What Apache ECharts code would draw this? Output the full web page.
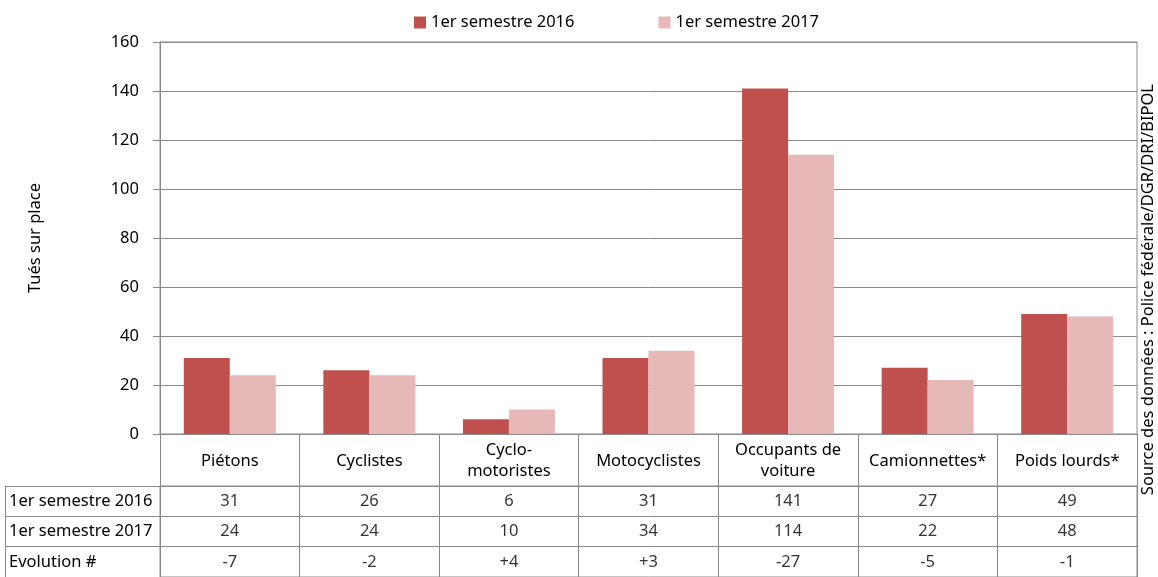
<!DOCTYPE html>
<html>
<head>
<meta charset="utf-8">
<script src="https://cdn.jsdelivr.net/npm/echarts@6/dist/echarts.min.js"></script>
<style>
  html, body { margin: 0; padding: 0; background: #fff; }
  #chart { width: 1158px; height: 577px; }
</style>
</head>
<body>
<div id="chart"></div>
<script>
const categories = [
  "Piétons",
  "Cyclistes",
  "Cyclo-\nmotoristes",
  "Motocyclistes",
  "Occupants de\nvoiture",
  "Camionnettes*",
  "Poids lourds*",
];
const seriesNames = ["1er semestre 2016", "1er semestre 2017"];
const values2016 = [31, 26, 6, 31, 141, 27, 49];
const values2017 = [24, 24, 10, 34, 114, 22, 48];
const evolution = [-7, -2, 4, 3, -27, -5, -1];
const tableRows = ["1er semestre 2016", "1er semestre 2017", "Evolution #"];
const yTicks = { min: 0, max: 160, interval: 20 };

const FONT = "Noto Sans";
const FS = 16.5;
const GRAY = "#8a8a8a";
const colors = ["#c0504d", "#e6b9b8"];

function fmtEvol(v) {
  return v > 0 ? "+" + v : String(v);
}

// cells of the data table: [column, row, text]
let cells = [];
categories.forEach((c, i) => {
  cells.push([i, 0, String(values2016[i])]);
  cells.push([i, 1, String(values2017[i])]);
  cells.push([i, 2, fmtEvol(evolution[i])]);
});

const chart = echarts.init(document.getElementById("chart"), null, { renderer: "canvas" });

const option = {
  animation: false,
  backgroundColor: "#fff",
  textStyle: { fontFamily: FONT, color: "#000" },
  color: colors,
  legend: {
    left: 409,
    top: 9,
    itemWidth: 12,
    itemHeight: 12,
    itemGap: 84,
    icon: "rect",
    textStyle: { fontFamily: FONT, fontSize: FS, color: "#000" },
    data: seriesNames,
  },
  grid: [
    {
      left: 160, right: 21, top: 42, height: 392,
      show: true, borderColor: GRAY, borderWidth: 1,
    },
    {
      left: 160, right: 21, top: 486, height: 93,
      show: true, borderColor: GRAY, borderWidth: 1,
    },
  ],
  xAxis: [
    {
      gridIndex: 0,
      type: "category",
      data: categories,
      axisLine: { lineStyle: { color: GRAY } },
      axisTick: { show: true, interval: 0, length: 52, lineStyle: { color: GRAY } },
      axisLabel: {
        interval: 0,
        margin: 27,
        verticalAlign: "middle",
        fontFamily: FONT,
        fontSize: FS,
        lineHeight: 21,
        color: "#000",
      },
      splitLine: { show: false },
    },
    {
      gridIndex: 1,
      type: "category",
      data: categories,
      axisLine: { show: false },
      axisTick: { show: false },
      axisLabel: { show: false },
      splitLine: { show: true, interval: 0, lineStyle: { color: GRAY } },
    },
  ],
  yAxis: [
    {
      gridIndex: 0,
      type: "value",
      min: yTicks.min,
      max: yTicks.max,
      interval: yTicks.interval,
      name: "Tués sur place",
      nameLocation: "middle",
      nameGap: 116,
      nameTextStyle: { fontFamily: FONT, fontSize: FS, color: "#000" },
      axisLine: { show: true, lineStyle: { color: GRAY } },
      axisTick: { show: true, length: 7, lineStyle: { color: GRAY } },
      axisLabel: { margin: 21, fontFamily: FONT, fontSize: FS, color: "#000" },
      splitLine: { show: true, lineStyle: { color: GRAY } },
    },
    {
      gridIndex: 1,
      type: "category",
      inverse: true,
      data: tableRows,
      axisLine: { show: true, lineStyle: { color: GRAY } },
      axisTick: { show: true, interval: 0, length: 155, lineStyle: { color: GRAY } },
      axisLabel: {
        interval: 0,
        align: "left",
        margin: 151,
        fontFamily: FONT,
        fontSize: FS,
        color: "#000",
      },
      splitLine: { show: true, interval: 0, lineStyle: { color: GRAY } },
    },
    {
      gridIndex: 1,
      type: "category",
      inverse: true,
      position: "left",
      offset: 155,
      data: tableRows,
      axisLine: { show: true, lineStyle: { color: GRAY } },
      axisTick: { show: false },
      axisLabel: { show: false },
    },
  ],
  series: [
    {
      name: seriesNames[0],
      type: "bar",
      xAxisIndex: 0,
      yAxisIndex: 0,
      data: values2016,
      barWidth: 46,
      barGap: "0%",
      itemStyle: { color: colors[0] },
    },
    {
      name: seriesNames[1],
      type: "bar",
      xAxisIndex: 0,
      yAxisIndex: 0,
      data: values2017,
      barWidth: 46,
      barGap: "0%",
      itemStyle: { color: colors[1] },
    },
    {
      name: "table",
      type: "scatter",
      xAxisIndex: 1,
      yAxisIndex: 1,
      data: cells,
      symbolSize: 1,
      itemStyle: { color: "transparent" },
      silent: true,
      label: {
        show: true,
        position: "inside",
        formatter: (p) => p.value[2],
        fontFamily: FONT,
        fontSize: FS,
        color: "#000",
      },
    },
  ],
  graphic: [
    {
      type: "text",
      left: 1140,
      top: 84,
      rotation: Math.PI / 2,
      style: {
        text: "Source des données : Police fédérale/DGR/DRI/BIPOL",
        font: FS + "px " + FONT,
        fill: "#000",
      },
    },
  ],
};

chart.setOption(option);
</script>
</body>
</html>
